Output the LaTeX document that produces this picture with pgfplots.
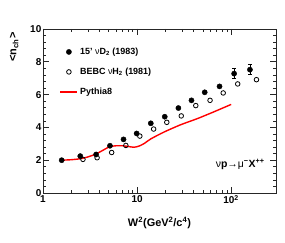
\documentclass[border=0pt]{standalone}
\usepackage{fontspec}
\setmainfont{Liberation Sans}
\usepackage{pgfplots}
\pgfplotsset{compat=1.18}
\pgfplotstableread{
x y
1.58 2.0
2.49 2.25
3.67 2.35
5.15 2.88
7.18 3.27
9.9 3.63
14.0 4.25
19.7 4.65
27.5 5.18
37.9 5.65
52.4 6.14
75.3 6.5
}\filled
\pgfplotstableread{
x y ey
107.6 7.28 0.3
158.5 7.52 0.3
}\filledErr
\pgfplotstableread{
x y
2.66 2.05
3.76 2.15
5.37 2.47
7.6 2.9
10.7 3.47
15.0 3.9
20.7 4.31
29.5 4.7
42.1 5.33
59.7 5.65
82.4 6.1
117.5 6.65
186 6.91
}\openpts
\pgfplotstableread{
x y
1.58 2.0
2.0 2.03
2.5 2.09
3.0 2.2
3.6 2.36
4.2 2.56
5.1 2.82
6.0 2.88
7.0 2.88
8.0 2.84
9.3 2.79
10.6 2.87
12 3.03
14 3.3
19.4 3.72
29 4.16
43.5 4.53
65 4.94
100 5.4
}\pythia
\begin{document}
\begin{tikzpicture}
\path[use as bounding box] (-43bp,-50bp) rectangle (242bp,193bp);
\begin{axis}[
  at={(0,0)}, anchor=south west,
  scale only axis, width=233bp, height=164bp,
  xmode=log, xmin=1, xmax=300, ymin=0, ymax=10,
  xtick={1,10,100}, xticklabels={1,10,10\textsuperscript{2}},
  ytick={0,2,4,6,8,10}, minor y tick num=4,
  tick align=inside, xtick pos=both, ytick pos=both,
  major tick length=6bp, minor tick length=3bp,
  axis line style={black!85, line width=0.8bp},
  every tick/.style={black!85, line width=0.6bp},
  /pgf/number format/assume math mode=true,
  tick label style={font=\bfseries\fontsize{10}{12}\selectfont},
  yticklabel style={inner xsep=1.5bp},
  xticklabel style={inner ysep=2bp},
  xlabel={W\textsuperscript{2}(GeV\textsuperscript{2}/c\textsuperscript{4})},
  xlabel style={at={(rel axis cs:0.5,-0.183)}, anchor=center, font=\bfseries\fontsize{11}{13}\selectfont},
  ylabel={<n\textsubscript{ch}>},
  ylabel style={at={(rel axis cs:-0.124,1)}, rotate=0, anchor=east, font=\bfseries\fontsize{11}{13}\selectfont},
  legend style={draw=none, fill=none, at={(rel axis cs:0.058,0.91)}, anchor=north west,
    font=\bfseries\fontsize{9}{11}\selectfont, row sep=8bp},
  legend cell align=left,
]
\addplot[only marks, mark=*, mark size=2.6bp, black] table[x=x,y=y] {\filled};
\addlegendentry{15' {\mdseries ν}D\textsubscript{2} (1983)}
\addplot[only marks, mark=o, mark size=2.3bp, black, line width=0.8bp] table[x=x,y=y] {\openpts};
\addlegendentry{BEBC {\mdseries ν}H\textsubscript{2} (1981)}
\addplot[red, line width=1.4bp, smooth, tension=0.4] table[x=x,y=y] {\pythia};
\addlegendentry{Pythia8}
\addplot[only marks, mark=*, mark size=2.6bp, black, forget plot,
  error bars/.cd, y dir=both, y explicit,
  error bar style={line width=0.8bp},
  error mark options={rotate=90, mark size=2bp, line width=0.8bp}]
  table[x=x,y=y,y error=ey] {\filledErr};
\node[anchor=center, font=\bfseries\fontsize{10.5}{12}\selectfont] at (axis cs:125,1.73)
  {{\mdseries ν}p{\mdseries→}{\mdseries μ}\textsuperscript{−}X\textsuperscript{++}};
\end{axis}
\end{tikzpicture}
\end{document}
